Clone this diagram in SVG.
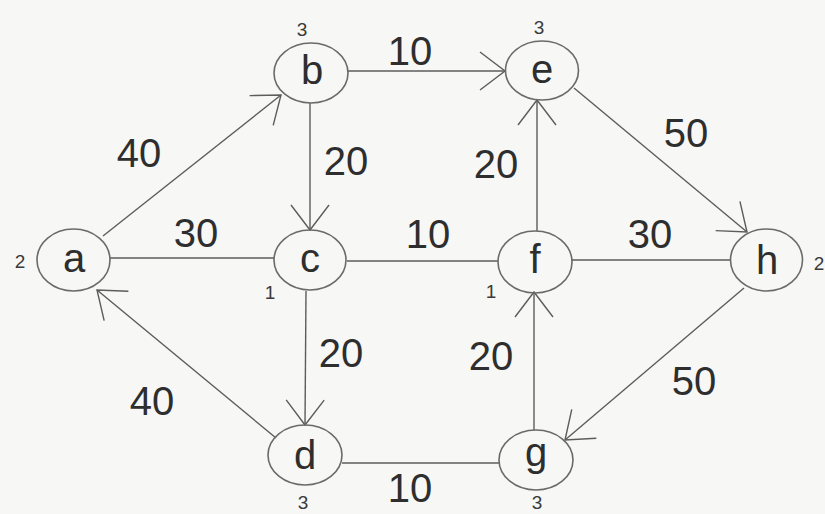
<svg xmlns="http://www.w3.org/2000/svg" width="825" height="514" viewBox="0 0 825 514">
<defs>
<style>
.node ellipse{fill:none;stroke:#6a6a6a;stroke-width:1.6}
.node text.l{font-family:"Liberation Sans",Arial,sans-serif;font-size:40px;fill:#2e2e2e;text-anchor:middle}
.node text.s{font-family:"Liberation Sans",Arial,sans-serif;font-size:19px;fill:#3a3a3a;text-anchor:middle}
.edges line{stroke:#5c5c5c;stroke-width:1.4}
.lab text{font-family:"Liberation Sans",Arial,sans-serif;font-size:40px;fill:#2e2e2e;text-anchor:middle}
</style>
<marker id="arr" markerUnits="userSpaceOnUse" viewBox="-30 -25 32 50" refX="0" refY="0" markerWidth="32" markerHeight="50" orient="auto" overflow="visible">
<path d="M-25,-19 L0,0 L-25,19" fill="none" stroke="#5c5c5c" stroke-width="1.4"/>
</marker>
</defs>
<rect width="825" height="514" fill="#f7f7f5"/>
<g class="edges">
<line x1="110" y1="258" x2="274" y2="258"/>
<line x1="347" y1="261" x2="498" y2="261"/>
<line x1="571" y1="260" x2="730" y2="260"/>
<line x1="342" y1="463" x2="499" y2="463"/>
<line x1="103" y1="236" x2="281" y2="95" marker-end="url(#arr)"/>
<line x1="310" y1="103" x2="310" y2="230" marker-end="url(#arr)"/>
<line x1="348" y1="71" x2="505" y2="71" marker-end="url(#arr)"/>
<line x1="537" y1="231" x2="537" y2="100" marker-end="url(#arr)"/>
<line x1="574" y1="88" x2="747" y2="232" marker-end="url(#arr)"/>
<line x1="306" y1="291" x2="305" y2="425" marker-end="url(#arr)"/>
<line x1="534" y1="430" x2="534" y2="292" marker-end="url(#arr)"/>
<line x1="744" y1="288" x2="565" y2="440" marker-end="url(#arr)"/>
<line x1="276" y1="438" x2="97" y2="290" marker-end="url(#arr)"/>
</g>
<g class="lab">
<text x="139" y="167">40</text>
<text x="196" y="247">30</text>
<text x="410" y="65">10</text>
<text x="346" y="175">20</text>
<text x="496" y="178">20</text>
<text x="428" y="248">10</text>
<text x="650" y="248">30</text>
<text x="686" y="147">50</text>
<text x="341" y="367">20</text>
<text x="491" y="370">20</text>
<text x="694" y="395">50</text>
<text x="152" y="415">40</text>
<text x="410" y="502">10</text>
</g>
<g id="node-a" class="node"><ellipse cx="73.5" cy="260" rx="36.5" ry="31"/><text class="l" x="74" y="272">a</text><text class="s" x="20" y="268">2</text></g>
<g id="node-b" class="node"><ellipse cx="311" cy="73" rx="37" ry="30"/><text class="l" x="312" y="84">b</text><text class="s" x="302" y="36">3</text></g>
<g id="node-c" class="node"><ellipse cx="310" cy="260" rx="36" ry="30"/><text class="l" x="310" y="272">c</text><text class="s" x="270" y="299">1</text></g>
<g id="node-d" class="node"><ellipse cx="305" cy="455" rx="37" ry="30"/><text class="l" x="305" y="469">d</text><text class="s" x="303" y="509">3</text></g>
<g id="node-e" class="node"><ellipse cx="542" cy="70.5" rx="36.5" ry="29.5"/><text class="l" x="542" y="83">e</text><text class="s" x="539" y="34">3</text></g>
<g id="node-f" class="node"><ellipse cx="535" cy="262" rx="37" ry="31"/><text class="l" x="535" y="273">f</text><text class="s" x="491" y="298">1</text></g>
<g id="node-g" class="node"><ellipse cx="536" cy="460" rx="37" ry="30"/><text class="l" x="536" y="466">g</text><text class="s" x="537" y="509">3</text></g>
<g id="node-h" class="node"><ellipse cx="766.5" cy="260" rx="36" ry="31"/><text class="l" x="767" y="274">h</text><text class="s" x="819" y="270">2</text></g>
</svg>
